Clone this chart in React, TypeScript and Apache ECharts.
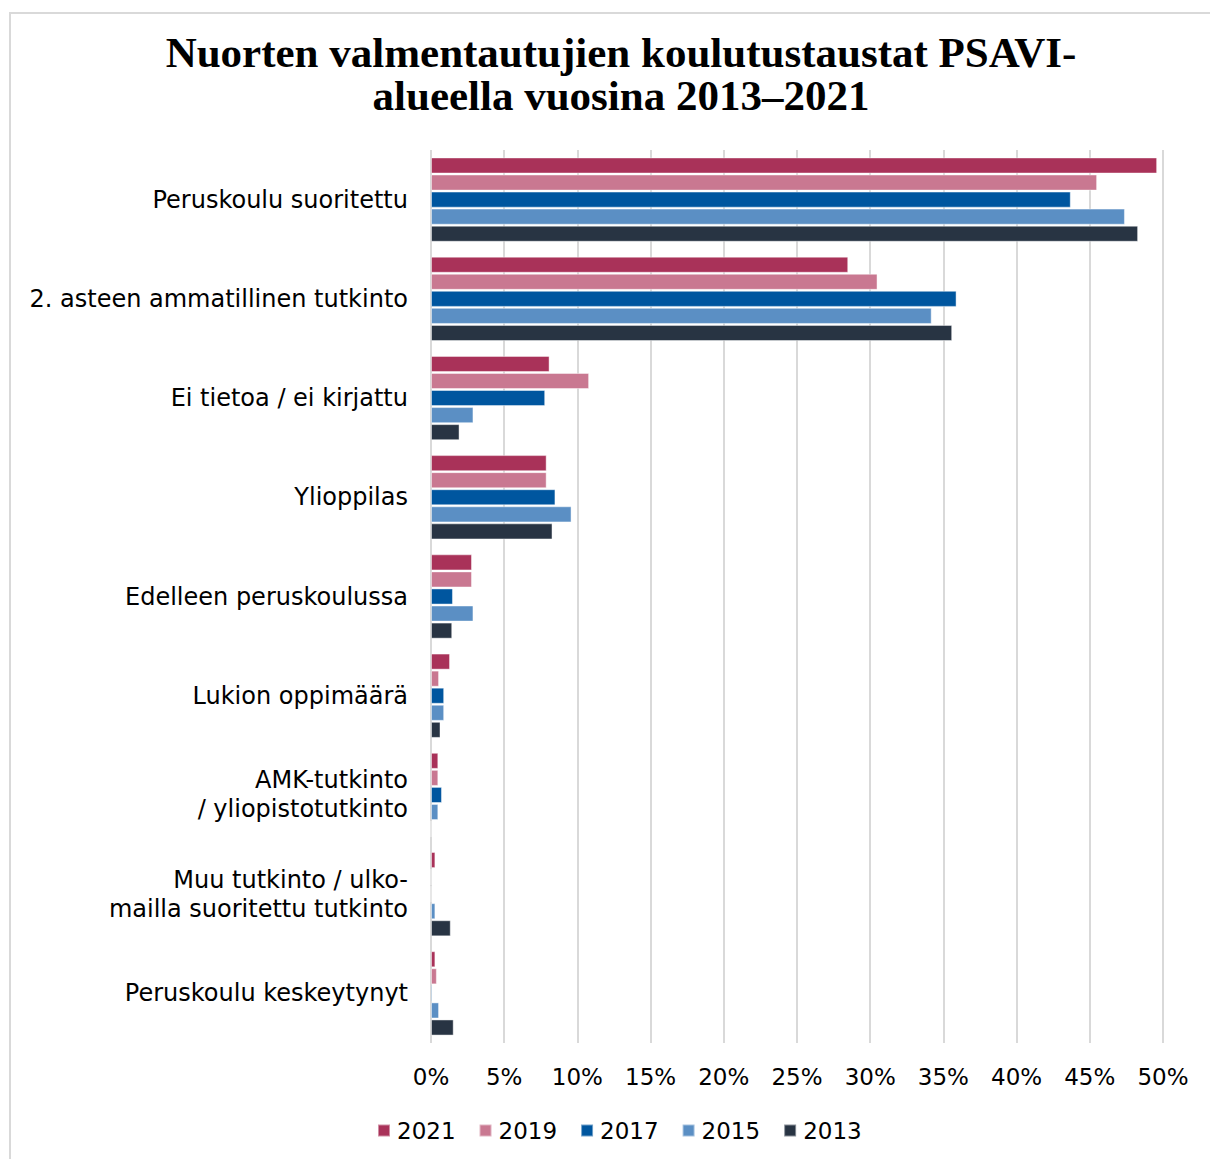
import React, { useEffect, useRef } from "react";
import * as echarts from "echarts";

const categories = [
  "Peruskoulu suoritettu",
  "2. asteen ammatillinen tutkinto",
  "Ei tietoa / ei kirjattu",
  "Ylioppilas",
  "Edelleen peruskoulussa",
  "Lukion oppimäärä",
  "AMK-tutkinto\n/ yliopistotutkinto",
  "Muu tutkinto / ulko-\nmailla suoritettu tutkinto",
  "Peruskoulu keskeytynyt",
];

const years = ["2021", "2019", "2017", "2015", "2013"];
const colors = ["#A93259", "#C97891", "#00569F", "#5B8FC4", "#283443"];

const v2021 = [49.6, 28.5, 8.1, 7.9, 2.8, 1.3, 0.5, 0.3, 0.3];
const v2019 = [45.5, 30.5, 10.8, 7.9, 2.8, 0.55, 0.5, 0, 0.4];
const v2017 = [43.7, 35.9, 7.8, 8.5, 1.5, 0.9, 0.75, 0, 0.1];
const v2015 = [47.4, 34.2, 2.9, 9.6, 2.9, 0.9, 0.5, 0.3, 0.55];
const v2013 = [48.3, 35.6, 1.95, 8.3, 1.45, 0.65, 0, 1.35, 1.55];
const seriesValues = [v2021, v2019, v2017, v2015, v2013];

const xTicks = { min: 0, max: 50, interval: 5 };

export default function App() {
  const ref = useRef<HTMLDivElement>(null);
  useEffect(() => {
    if (!ref.current) return;
    const chart = echarts.init(ref.current, null, { renderer: "svg" });
    chart.setOption({
      animation: false,
      backgroundColor: "#ffffff",
      title: {
        text: "Nuorten valmentautujien koulutustaustat PSAVI-\nalueella vuosina 2013–2021",
        left: 616,
        textAlign: "center",
        top: 26,
        textStyle: {
          fontFamily: "Liberation Serif",
          fontWeight: "bold",
          fontSize: 43,
          lineHeight: 43,
          color: "#000000",
        },
      },
      graphic: [
        {
          type: "line",
          shape: { x1: 10, y1: 13, x2: 1210, y2: 13 },
          style: { stroke: "#D9D9D9", lineWidth: 2 },
        },
        {
          type: "line",
          shape: { x1: 10, y1: 12, x2: 10, y2: 1159 },
          style: { stroke: "#D9D9D9", lineWidth: 2 },
        },
      ],
      legend: {
        left: 372,
        top: 1114,
        itemWidth: 12,
        itemHeight: 12,
        itemGap: 23,
        icon: "rect",
        textStyle: {
          fontFamily: "DejaVu Sans",
          fontSize: 23,
          color: "#000000",
          padding: [0, 0, 0, 2],
        },
        data: years,
      },
      grid: { left: 431, right: 47, top: 150, bottom: 116 },
      xAxis: {
        type: "value",
        min: xTicks.min,
        max: xTicks.max,
        interval: xTicks.interval,
        axisLabel: {
          formatter: "{value}%",
          fontFamily: "DejaVu Sans",
          fontSize: 23,
          color: "#000000",
          margin: 22,
        },
        axisLine: { show: false },
        axisTick: { show: false },
        splitLine: { lineStyle: { color: "#D9D9D9", width: 2 } },
      },
      yAxis: {
        type: "category",
        inverse: true,
        data: categories,
        axisLine: { show: false },
        axisTick: { show: false },
        axisLabel: {
          fontFamily: "DejaVu Sans",
          fontSize: 24,
          lineHeight: 29,
          color: "#000000",
          margin: 23,
          align: "right",
        },
      },
      series: years.map((y, i) => ({
        name: y,
        type: "bar",
        data: seriesValues[i],
        barCategoryGap: "15%",
        barGap: "6%",
        itemStyle: {
          color: colors[i],
          borderColor: "rgba(255,255,255,0.45)",
          borderWidth: 1,
        },
      })),
    });
    return () => chart.dispose();
  }, []);
  return (
    <div
      ref={ref}
      style={{ position: "absolute", left: 0, top: 0, width: 1210, height: 1159 }}
    />
  );
}
